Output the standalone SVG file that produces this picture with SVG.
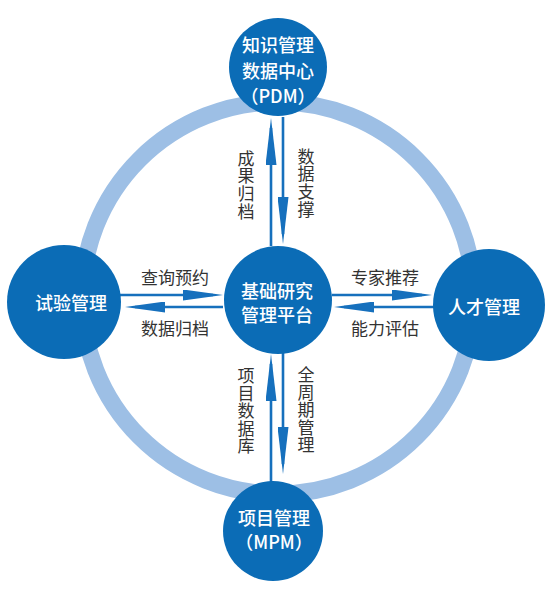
<svg xmlns="http://www.w3.org/2000/svg" width="550" height="602" viewBox="0 0 550 602">
  <style>
    .node { fill: #0b6cb6; }
    .nt { fill: #ffffff; font-family: "Noto Sans CJK SC", "Noto Sans", sans-serif; font-size: 18px; font-weight: 500; text-anchor: middle; dominant-baseline: central; }
    .lbl { fill: #333333; font-family: "Noto Sans CJK SC", "Noto Sans", sans-serif; font-size: 17px; text-anchor: middle; dominant-baseline: central; }
    .vl { writing-mode: vertical-rl; letter-spacing: 0.6px; }
    .arr { stroke: #1670bd; stroke-width: 2.6; fill: none; }
  </style>
  <defs>
    <marker id="ah" viewBox="0 0 40 11" refX="30" refY="5.5" markerWidth="40" markerHeight="11" markerUnits="userSpaceOnUse" orient="auto">
      <path d="M0,0 L40,5.5 L0,11 z" fill="#1670bd"/>
    </marker>
    <marker id="av" viewBox="0 0 47 11" refX="37" refY="5.5" markerWidth="47" markerHeight="11" markerUnits="userSpaceOnUse" orient="auto">
      <path d="M0,0 L47,5.5 L0,11 z" fill="#1670bd"/>
    </marker>
  </defs>
  <rect width="550" height="602" fill="#ffffff"/>
  <circle id="ring" cx="278" cy="298" r="196" fill="none" stroke="#9dbfe5" stroke-width="17"/>
  <g id="connectors">
    <line class="arr" x1="271" y1="246" x2="271" y2="128" marker-end="url(#av)"/>
    <line class="arr" x1="283" y1="117" x2="283" y2="234" marker-end="url(#av)"/>
    <line class="arr" x1="271" y1="490" x2="271" y2="364" marker-end="url(#av)"/>
    <line class="arr" x1="283" y1="353" x2="283" y2="464" marker-end="url(#av)"/>
    <line class="arr" x1="118" y1="295" x2="213" y2="295" marker-end="url(#ah)"/>
    <line class="arr" x1="223" y1="307" x2="135" y2="307" marker-end="url(#ah)"/>
    <line class="arr" x1="332" y1="295" x2="422" y2="295" marker-end="url(#ah)"/>
    <line class="arr" x1="434" y1="307" x2="344" y2="307" marker-end="url(#ah)"/>
  </g>
  <g id="labels">
    <text class="lbl" x="175" y="276">查询预约</text>
    <text class="lbl" x="175" y="327">数据归档</text>
    <text class="lbl" x="385" y="276">专家推荐</text>
    <text class="lbl" x="385" y="327">能力评估</text>
    <text class="lbl vl" x="246" y="185">成果归档</text>
    <text class="lbl vl" x="306" y="183">数据支撑</text>
    <text class="lbl vl" x="246" y="411">项目数据库</text>
    <text class="lbl vl" x="306" y="410">全周期管理</text>
  </g>
  <g id="node-pdm">
    <circle class="node" cx="278" cy="67" r="49"/>
    <text class="nt" x="278" y="44">知识管理</text>
    <text class="nt" x="278" y="70">数据中心</text>
    <text class="nt" x="278" y="95">（PDM）</text>
  </g>
  <g id="node-test">
    <circle class="node" cx="64" cy="302" r="57"/>
    <text class="nt" x="71" y="302">试验管理</text>
  </g>
  <g id="node-talent">
    <circle class="node" cx="489" cy="305" r="56"/>
    <text class="nt" x="484" y="306">人才管理</text>
  </g>
  <g id="node-platform">
    <circle class="node" cx="278" cy="300" r="54"/>
    <text class="nt" x="277" y="290">基础研究</text>
    <text class="nt" x="277" y="314">管理平台</text>
  </g>
  <g id="node-mpm">
    <circle class="node" cx="273" cy="531" r="50"/>
    <text class="nt" x="274" y="517">项目管理</text>
    <text class="nt" x="274" y="541">（MPM）</text>
  </g>
</svg>
